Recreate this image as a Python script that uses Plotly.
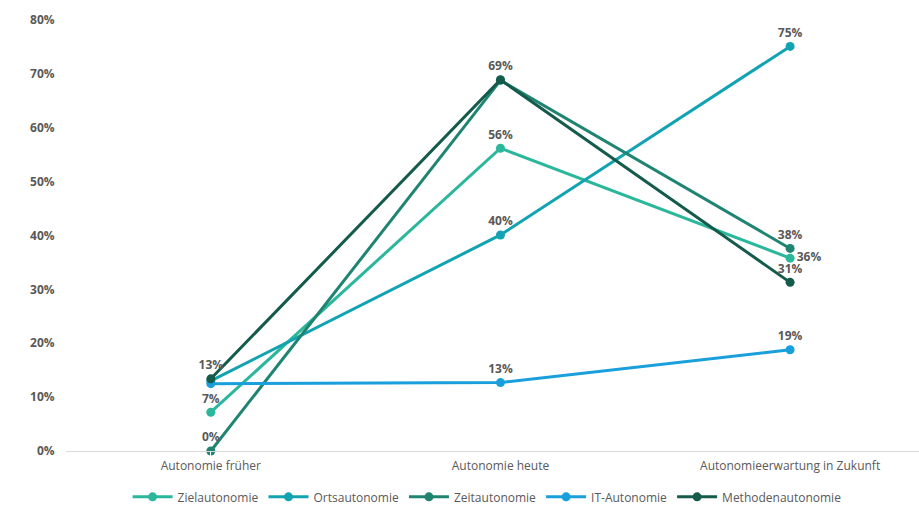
import plotly.graph_objects as go

# Categories on the x axis
categories = ["Autonomie früher", "Autonomie heute", "Autonomieerwartung in Zukunft"]

# Share of respondents per autonomy type (fractions)
ziel = [0.072, 0.562, 0.358]
orts = [0.130, 0.401, 0.751]
zeit = [0.000, 0.688, 0.376]
it_autonomie = [0.125, 0.127, 0.188]
methoden = [0.134, 0.689, 0.313]

# Which points carry a value label
ziel_show = [True, True, True]
orts_show = [False, True, True]
zeit_show = [True, False, True]
it_show = [False, True, True]
methoden_show = [True, True, True]

series = [
    ("Zielautonomie", ziel, ziel_show, "#2bb79b",
     ["top center", "top center", "middle right"]),
    ("Ortsautonomie", orts, orts_show, "#12a3b3",
     ["top center", "top center", "top center"]),
    ("Zeitautonomie", zeit, zeit_show, "#1f8471",
     ["top center", "top center", "top center"]),
    ("IT-Autonomie", it_autonomie, it_show, "#189fdc",
     ["top center", "top center", "top center"]),
    ("Methodenautonomie", methoden, methoden_show, "#145b4b",
     ["top center", "top center", "top center"]),
]

label_font = dict(family="Open Sans", size=12, color="#595959")

fig = go.Figure()
for name, vals, show, color, positions in series:
    texts = [f"<b>{round(v * 100)}%</b>" if s else "" for v, s in zip(vals, show)]
    fig.add_trace(go.Scatter(
        x=categories, y=vals, name=name,
        mode="lines+markers+text",
        line=dict(color=color, width=3),
        marker=dict(color=color, size=9),
        text=texts, textposition=positions,
        textfont=label_font,
        cliponaxis=False,
    ))

fig.update_layout(
    width=919, height=508,
    margin=dict(l=66, r=0, t=20, b=57, autoexpand=False),
    paper_bgcolor="white", plot_bgcolor="white",
    font=dict(family="Open Sans", size=12, color="#595959"),
    showlegend=True,
    legend=dict(orientation="h", x=0.53, xref="container", xanchor="center",
                y=0.022, yref="container", yanchor="middle",
                font=dict(family="Open Sans", size=12, color="#595959"),
                itemwidth=40, tracegroupgap=0),
    xaxis=dict(type="category", range=[-0.5, 2.445], showgrid=False,
               showline=True, linecolor="#d9d9d9", linewidth=1,
               ticks="outside", ticklen=4, tickcolor="white",
               tickfont=dict(size=12, color="#595959")),
    yaxis=dict(range=[0, 0.8], dtick=0.1, tickformat=".0%", showgrid=False,
               zeroline=False, showline=False, ticks="outside", ticklen=8,
               tickcolor="white",
               tickfont=dict(family="Open Sans", size=12, color="#595959",
                             weight="bold")),
)

fig.write_html("out.html")
